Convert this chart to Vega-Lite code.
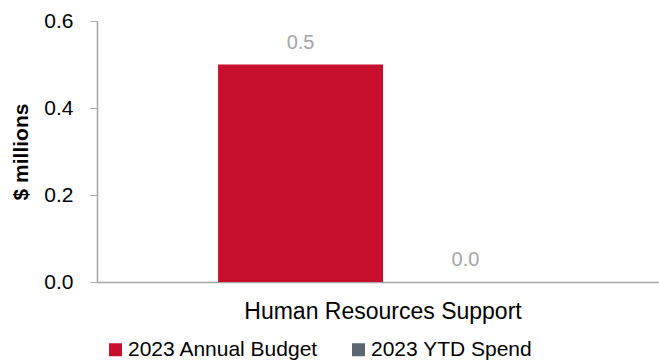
{
  "$schema": "https://vega.github.io/schema/vega-lite/v6.json",
  "width": 572,
  "height": 261,
  "padding": {"left": 10, "top": 10, "right": 0, "bottom": 0},
  "autosize": {"type": "pad"},
  "config": {
    "view": {"stroke": null},
    "font": "Liberation Sans"
  },
  "data": {
    "values": [
      {"category": "Human Resources Support", "series": "2023 Annual Budget", "value": 0.5, "label": "0.5"},
      {"category": "Human Resources Support", "series": "2023 YTD Spend", "value": 0.0, "label": "0.0"}
    ]
  },
  "encoding": {
    "x": {
      "field": "category",
      "type": "nominal",
      "scale": {"paddingInner": 0, "paddingOuter": 0.367},
      "axis": {
        "title": null,
        "labelAngle": 0,
        "labelLimit": 0,
        "ticks": false,
        "labelFontSize": 23,
        "labelColor": "#000000",
        "labelPadding": 18,
        "domainColor": "#A6A6A6",
        "domainWidth": 1.5
      }
    },
    "xOffset": {"field": "series", "type": "nominal", "scale": {"paddingInner": 0, "paddingOuter": 0}},
    "y": {
      "field": "value",
      "type": "quantitative",
      "scale": {"domain": [0, 0.6]},
      "axis": {
        "title": "$ millions",
        "titleFontSize": 21,
        "titleFontWeight": "bold",
        "titleColor": "#000000",
        "titlePadding": 12,
        "values": [0, 0.2, 0.4, 0.6],
        "format": ".1f",
        "grid": false,
        "labelFontSize": 21,
        "labelColor": "#000000",
        "labelPadding": 17,
        "tickSize": 7,
        "tickColor": "#A6A6A6",
        "domainColor": "#A6A6A6",
        "domainWidth": 1.5
      }
    }
  },
  "layer": [
    {
      "mark": {"type": "bar"},
      "encoding": {
        "color": {
          "field": "series",
          "type": "nominal",
          "scale": {"domain": ["2023 Annual Budget", "2023 YTD Spend"], "range": ["#C8102E", "#5B6770"]},
          "legend": {
            "title": null,
            "orient": "none",
            "direction": "horizontal",
            "legendX": 8,
            "legendY": 318,
            "symbolType": "square",
            "symbolSize": 169,
            "symbolStrokeWidth": 0,
            "symbolOpacity": 1,
            "labelFontSize": 21,
            "labelLimit": 400,
            "labelColor": "#000000",
            "labelOffset": 2,
            "columnPadding": 29
          }
        }
      }
    },
    {
      "mark": {"type": "text", "baseline": "bottom", "dy": -12, "fontSize": 20, "color": "#A6A6A6"},
      "encoding": {
        "text": {"field": "label"}
      }
    }
  ]
}
